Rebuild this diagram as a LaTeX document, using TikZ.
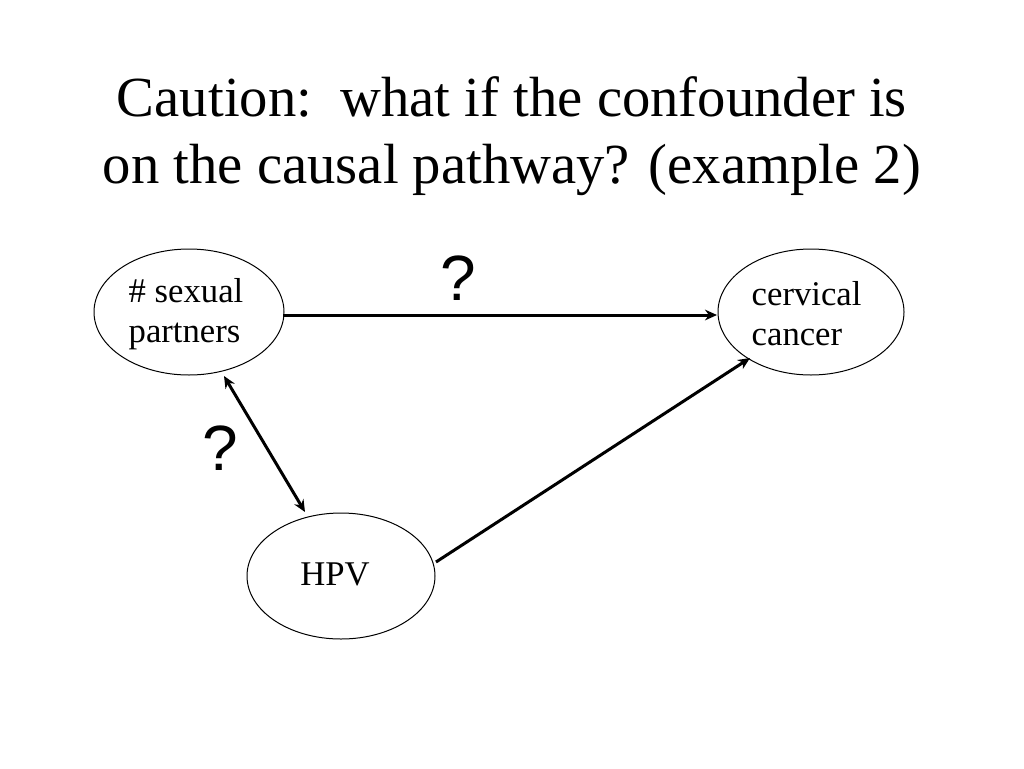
\documentclass[tikz,border=0pt]{standalone}
\usepackage{fontspec}
\setmainfont{Liberation Serif}
\newfontfamily\qfont{Liberation Sans}
\usetikzlibrary{shapes.geometric,arrows.meta}
\begin{document}
\begin{tikzpicture}[x=0.75pt,y=-0.75pt,
  ell/.style={draw,ellipse,line width=0.75pt,minimum width=190*0.75pt,minimum height=126*0.75pt},
  lbl/.style={font=\fontsize{26}{30}\selectfont,align=left,anchor=west},
  conn/.style={line width=2.25pt,-{Stealth[length=9pt,width=8pt]}},
  qm/.style={font=\qfont\fontsize{48}{48}\selectfont}]
\useasboundingbox (0,0) rectangle (1024,768);
\node[font=\fontsize{42.5}{50}\selectfont,align=center] (title) at (512,136) {Caution:\ \ what if the confounder is\\on the causal pathway? (example 2)};
\node[ell] (sp) at (189,312) {};
\node[ell,minimum width=186*0.75pt] (cc) at (811,312) {};
\node[ell,minimum width=188*0.75pt] (hpv) at (341,576) {};
\node[lbl] (spt) at (124,314) {\# sexual\\partners};
\node[lbl] (cct) at (747,314) {cervical\\cancer};
\node[font=\fontsize{26}{30}\selectfont] (hpvt) at (335,574) {HPV};
\coordinate (a1) at (283,315); \coordinate (a2) at (717,315);
\draw[conn] (a1) -- (a2);
\coordinate (b1) at (224,376); \coordinate (b2) at (305,512);
\draw[conn,{Stealth[length=9pt,width=8pt]}-{Stealth[length=9pt,width=8pt]}] (b1) -- (b2);
\coordinate (c1) at (436,562); \coordinate (c2) at (750,358);
\draw[conn] (c1) -- (c2);
\node[qm] (q1) at (458,278) {?};
\node[qm] (q2) at (220,448) {?};
\end{tikzpicture}
\end{document}
